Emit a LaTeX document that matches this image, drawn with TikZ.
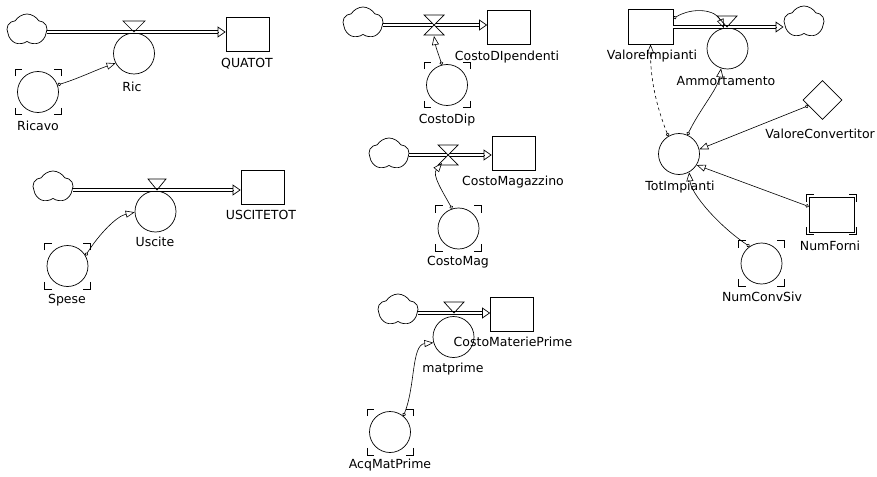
\documentclass[tikz,border=0pt]{standalone}
\usepackage{fontspec}
\setmainfont{DejaVu Sans}
\usetikzlibrary{positioning}
\usetikzlibrary{calc}
\usetikzlibrary{arrows.meta}
\usetikzlibrary{shapes.geometric}
\usetikzlibrary{shapes.symbols}

% corner marks of a ghost / constant
\newcommand{\cornermarks}[1]{%
    \coordinate (#1nw) at (#1.west |- #1.north);
    \coordinate (#1ne) at (#1.east |- #1.north);
    \coordinate (#1sw) at (#1.west |- #1.south);
    \coordinate (#1se) at (#1.east |- #1.south);
    \draw ($(#1nw)+(-2,5)$) -- ($(#1nw)+(-2,-2)$) -- ($(#1nw)+(5,-2)$);
    \draw ($(#1ne)+(2,5)$) -- ($(#1ne)+(2,-2)$) -- ($(#1ne)+(-5,-2)$);
    \draw ($(#1sw)+(-2,-5)$) -- ($(#1sw)+(-2,2)$) -- ($(#1sw)+(5,2)$);
    \draw ($(#1se)+(2,-5)$) -- ($(#1se)+(2,2)$) -- ($(#1se)+(-5,2)$);
}

\begin{document}
\begin{tikzpicture}[x=1pt, y=-1pt, line width=0.7pt,
    aux/.style={circle, draw, minimum size=41pt, inner sep=0pt},
    stock/.style={rectangle, draw, minimum width=43pt, minimum height=34pt, inner sep=0pt},
    source/.style={cloud, draw, cloud puffs=5, cloud puff arc=120, aspect=1.25, minimum width=40pt, minimum height=32pt, inner sep=0pt},
    lbl/.style={font=\fontsize{12.5}{14}\selectfont, inner sep=0pt, text height=9pt, text depth=2.5pt},
    flowpipe/.style={draw=black, double=white, double distance=2.2pt, line width=0.7pt},
    pipetip/.style={-{Triangle[open, length=8pt, width=11pt, line width=0.7pt]}},
    link/.style={line width=0.6pt, {Circle[open, length=3.5pt, width=3.5pt]}-{Triangle[open, length=9pt, width=7pt]}}]
    \useasboundingbox (0,0) rectangle (877,476);

    % QUATOT
    \node[source] (cloudA) at (27,30) {};
    \coordinate (vA) at (134,32);
    \node[stock] (quatot) at (247.5,34.5) {};
    \node[lbl] (quatotL) at (247,64) {QUATOT};
    \node[aux] (ric) at (134,53.5) {};
    \node[lbl] (ricL) at (132,88) {Ric};
    \node[aux] (ricavo) at (38,92) {};
    \node[lbl] (ricavoL) at (38,127) {Ricavo};
    \cornermarks{ricavo}
    \path[flowpipe] (cloudA.east |- vA) -- ($(quatot.west |- vA)+(-8,0)$);
    \draw[pipetip] ($(quatot.west |- vA)+(-8,0)$) -- (quatot.west |- vA);
    \draw (vA) -- ++(-11,-11) -- ++(22,0) -- cycle;
    \draw[link] (ricavo.20) .. controls +(20,-6) and +(-18,6) .. (ric.208);

    % USCITETOT
    \node[source] (cloudB) at (53,187) {};
    \coordinate (vB) at (157,190);
    \node[stock] (uscitetot) at (262.5,187) {};
    \node[lbl] (uscitetotL) at (261,216) {USCITETOT};
    \node[aux] (uscite) at (155.5,211.5) {};
    \node[lbl] (usciteL) at (155,243) {Uscite};
    \node[aux] (spese) at (67.5,266) {};
    \node[lbl] (speseL) at (67,300) {Spese};
    \cornermarks{spese}
    \path[flowpipe] (cloudB.east |- vB) -- ($(uscitetot.west |- vB)+(-8,0)$);
    \draw[pipetip] ($(uscitetot.west |- vB)+(-8,0)$) -- (uscitetot.west |- vB);
    \draw (vB) -- ++(-9,-11) -- ++(18,0) -- cycle;
    \draw[link] (spese.30) .. controls +(14,-22) and +(-18,4) .. (uscite.182);

    % CostoDIpendenti
    \node[source] (cloudC) at (363,23) {};
    \coordinate (vC) at (434,25);
    \coordinate (vCb) at (434,36);
    \node[stock] (costoDipendenti) at (509,27) {};
    \node[lbl] (costoDipendentiL) at (507,57) {CostoDIpendenti};
    \node[aux] (costoDip) at (447,85) {};
    \node[lbl] (costoDipL) at (447,120) {CostoDip};
    \cornermarks{costoDip}
    \path[flowpipe] (cloudC.east |- vC) -- ($(costoDipendenti.west |- vC)+(-8,0)$);
    \draw[pipetip] ($(costoDipendenti.west |- vC)+(-8,0)$) -- (costoDipendenti.west |- vC);
    \draw[fill=white] (vC) -- ++(-10,-10) -- ++(20,0) -- cycle (vC) -- ++(-10,10) -- ++(20,0) -- cycle;
    \draw[link] (costoDip.104) .. controls +(-4,-12) and +(2,12) .. (vCb);

    % CostoMagazzino
    \node[source] (cloudD) at (389,154) {};
    \coordinate (vD) at (448,155);
    \coordinate (vDb) at (442,163);
    \node[stock] (costoMagazzino) at (513.5,153.5) {};
    \node[lbl] (costoMagazzinoL) at (513,182) {CostoMagazzino};
    \node[aux] (costoMag) at (458.5,228.5) {};
    \node[lbl] (costoMagL) at (458,262) {CostoMag};
    \cornermarks{costoMag}
    \path[flowpipe] (cloudD.east |- vD) -- ($(costoMagazzino.west |- vD)+(-8,0)$);
    \draw[pipetip] ($(costoMagazzino.west |- vD)+(-8,0)$) -- (costoMagazzino.west |- vD);
    \draw[fill=white] (vD) -- ++(-10,-10) -- ++(20,0) -- cycle (vD) -- ++(-10,10) -- ++(20,0) -- cycle;
    \draw[link] (costoMag.108) .. controls +(-10,-18) and +(-10,12) .. (vDb);

    % CostoMateriePrime
    \node[source] (cloudE) at (398,310) {};
    \coordinate (vE) at (454,313);
    \node[stock] (costoMateriePrime) at (512,314.5) {};
    \node[lbl] (costoMateriePrimeL) at (513,343) {CostoMateriePrime};
    \node[aux] (matprime) at (453.5,337) {};
    \node[lbl] (matprimeL) at (453,369) {matprime};
    \node[aux] (acqMatPrime) at (390,432) {};
    \node[lbl] (acqMatPrimeL) at (390,465) {AcqMatPrime};
    \cornermarks{acqMatPrime}
    \path[flowpipe] (cloudE.east |- vE) -- ($(costoMateriePrime.west |- vE)+(-8,0)$);
    \draw[pipetip] ($(costoMateriePrime.west |- vE)+(-8,0)$) -- (costoMateriePrime.west |- vE);
    \draw (vE) -- ++(-10,-11) -- ++(20,0) -- cycle;
    \draw[link] (acqMatPrime.50) .. controls +(12,-30) and +(-22,2) .. (matprime.196);

    % ValoreImpianti
    \node[stock, minimum width=45pt, minimum height=35pt] (valImp) at (650.5,26.5) {};
    \node[lbl] (valImpL) at (652,56) {ValoreImpianti};
    \node[source] (cloudF) at (804,22) {};
    \coordinate (vF) at (727,27);
    \node[aux] (amm) at (727.5,48.5) {};
    \node[lbl] (ammL) at (726,82) {Ammortamento};
    \node[diamond, draw, minimum size=39pt, inner sep=0pt] (conv) at (822.5,100) {};
    \node[lbl, anchor=west] (convL) at (765,135) {ValoreConvertitor};
    \node[aux] (tot) at (679,154) {};
    \node[lbl] (totL) at (680,187) {TotImpianti};
    \node[stock, minimum width=45pt, minimum height=35pt] (numForni) at (831.5,214.5) {};
    \node[lbl] (numForniL) at (830,247) {NumForni};
    \cornermarks{numForni}
    \node[aux] (numConvSiv) at (761.5,263.5) {};
    \node[lbl] (numConvSivL) at (762,298) {NumConvSiv};
    \cornermarks{numConvSiv}
    \path[flowpipe] (valImp.east |- vF) -- ($(cloudF.west |- vF)+(-8,0)$);
    \draw[pipetip] ($(cloudF.west |- vF)+(-8,0)$) -- (cloudF.west |- vF);
    \draw (vF) -- ++(-10,-11) -- ++(20,0) -- cycle;
    \draw[link] ([yshift=8pt]valImp.east) .. controls +(20,-12) and +(-8,-18) .. (amm.100);
    \draw[link, dashed] (tot.121) .. controls +(-12,-30) and +(0,35) .. (valImp.south);
    \draw[link] (tot.66) .. controls +(12,-25) and +(-3,20) .. (amm.252);
    \draw[link] (conv.202) -- (tot.13);
    \draw[link] ([yshift=8pt]numForni.west) -- (tot.328);
    \draw[link] (numConvSiv.125) .. controls +(-30,-20) and +(2,22) .. (tot.299);
\end{tikzpicture}
\end{document}
